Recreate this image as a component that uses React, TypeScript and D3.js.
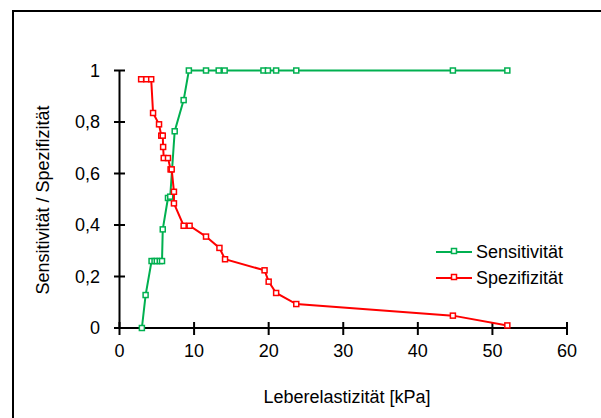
import React from "react";
import * as d3 from "d3";

const sensX = [3.0, 3.5, 4.3, 4.7, 5.0, 5.4, 5.7, 5.8, 6.5, 6.8, 7.4, 8.6, 9.3, 11.6, 13.3, 14.1, 19.3, 19.9, 21.0, 23.7, 44.7, 52.0];
const sensY = [0, 0.128, 0.26, 0.26, 0.26, 0.26, 0.26, 0.383, 0.505, 0.51, 0.764, 0.885, 1, 1, 1, 1, 1, 1, 1, 1, 1, 1];

const specX = [2.9, 3.6, 4.25, 4.5, 5.3, 5.6, 5.8, 5.85, 5.93, 6.5, 6.85, 7.0, 7.3, 7.3, 8.6, 9.4, 11.6, 13.4, 14.15, 19.45, 20.0, 21.0, 23.7, 44.7, 52.0];
const specY = [0.966, 0.966, 0.966, 0.835, 0.791, 0.747, 0.747, 0.703, 0.66, 0.66, 0.616, 0.616, 0.529, 0.484, 0.397, 0.397, 0.355, 0.311, 0.267, 0.224, 0.18, 0.136, 0.093, 0.048, 0.01];

const xTicks = [0, 10, 20, 30, 40, 50, 60];
const yTicks = [0, 0.2, 0.4, 0.6, 0.8, 1];
const yTickLabels = ["0", "0,2", "0,4", "0,6", "0,8", "1"];

const seriesNames = ["Sensitivität", "Spezifizität"];
const seriesColors = ["#00B050", "#FF0000"];

const FONT = "Arial, 'Liberation Sans', sans-serif";

export default function App() {
  const W = 601, H = 418;
  const x = d3.scaleLinear().domain([0, 60]).range([119.5, 567]);
  const y = d3.scaleLinear().domain([0, 1]).range([328, 70.5]);

  const series = [
    sensX.map((v, i) => [v, sensY[i]] as [number, number]),
    specX.map((v, i) => [v, specY[i]] as [number, number]),
  ];
  const line = d3.line<[number, number]>().x(d => x(d[0])).y(d => y(d[1]));

  const ms = 5;
  const marker = (cx: number, cy: number, color: string, key: string) => (
    <rect key={key} x={cx - ms / 2} y={cy - ms / 2} width={ms} height={ms} fill="white" stroke={color} strokeWidth={1.5} />
  );

  const legendX = 436, legendY = [252, 278];

  return (
    <svg width={W} height={H} style={{ position: "absolute", left: 0, top: 0, display: "block" }} fontFamily={FONT}>
      <rect x={0} y={0} width={W} height={H} fill="white" />
      <rect x={13} y={11} width={W + 20} height={H + 20} fill="none" stroke="#000" strokeWidth={2} />

      {/* axes */}
      <line x1={x(0)} x2={x(0)} y1={y(1)} y2={y(0)} stroke="#000" strokeWidth={2} />
      <line x1={x(0)} x2={x(60)} y1={y(0)} y2={y(0)} stroke="#000" strokeWidth={2} />
      {yTicks.map((t, i) => (
        <g key={"yt" + i}>
          <line x1={x(0) - 5.5} x2={x(0) + 5.5} y1={y(t)} y2={y(t)} stroke="#000" strokeWidth={2} />
          <text x={100} y={y(t)} dy="0.35em" textAnchor="end" fontSize={18} fill="#000">{yTickLabels[i]}</text>
        </g>
      ))}
      {xTicks.map((t, i) => (
        <g key={"xt" + i}>
          <line x1={x(t)} x2={x(t)} y1={y(0) - 6} y2={y(0) + 7} stroke="#000" strokeWidth={2} />
          <text x={x(t)} y={357} textAnchor="middle" fontSize={18} fill="#000">{t}</text>
        </g>
      ))}

      <text x={347} y={403} textAnchor="middle" fontSize={18} fill="#000">Leberelastizität [kPa]</text>
      <text transform={`translate(49,200) rotate(-90)`} textAnchor="middle" fontSize={18} fill="#000">Sensitivität / Spezifizität</text>

      {/* series */}
      {series.map((s, si) => (
        <g key={"s" + si}>
          <path d={line(s) || ""} fill="none" stroke={seriesColors[si]} strokeWidth={2} />
          {s.map((d, i) => marker(x(d[0]), y(d[1]), seriesColors[si], `m${si}-${i}`))}
        </g>
      ))}

      {/* legend */}
      {seriesNames.map((n, i) => (
        <g key={"lg" + i}>
          <line x1={legendX} x2={legendX + 36} y1={legendY[i]} y2={legendY[i]} stroke={seriesColors[i]} strokeWidth={2} />
          {marker(legendX + 18, legendY[i] - 1, seriesColors[i], "lm" + i)}
          <text x={476} y={legendY[i]} dy="0.35em" fontSize={18} fill="#000">{n}</text>
        </g>
      ))}
    </svg>
  );
}
